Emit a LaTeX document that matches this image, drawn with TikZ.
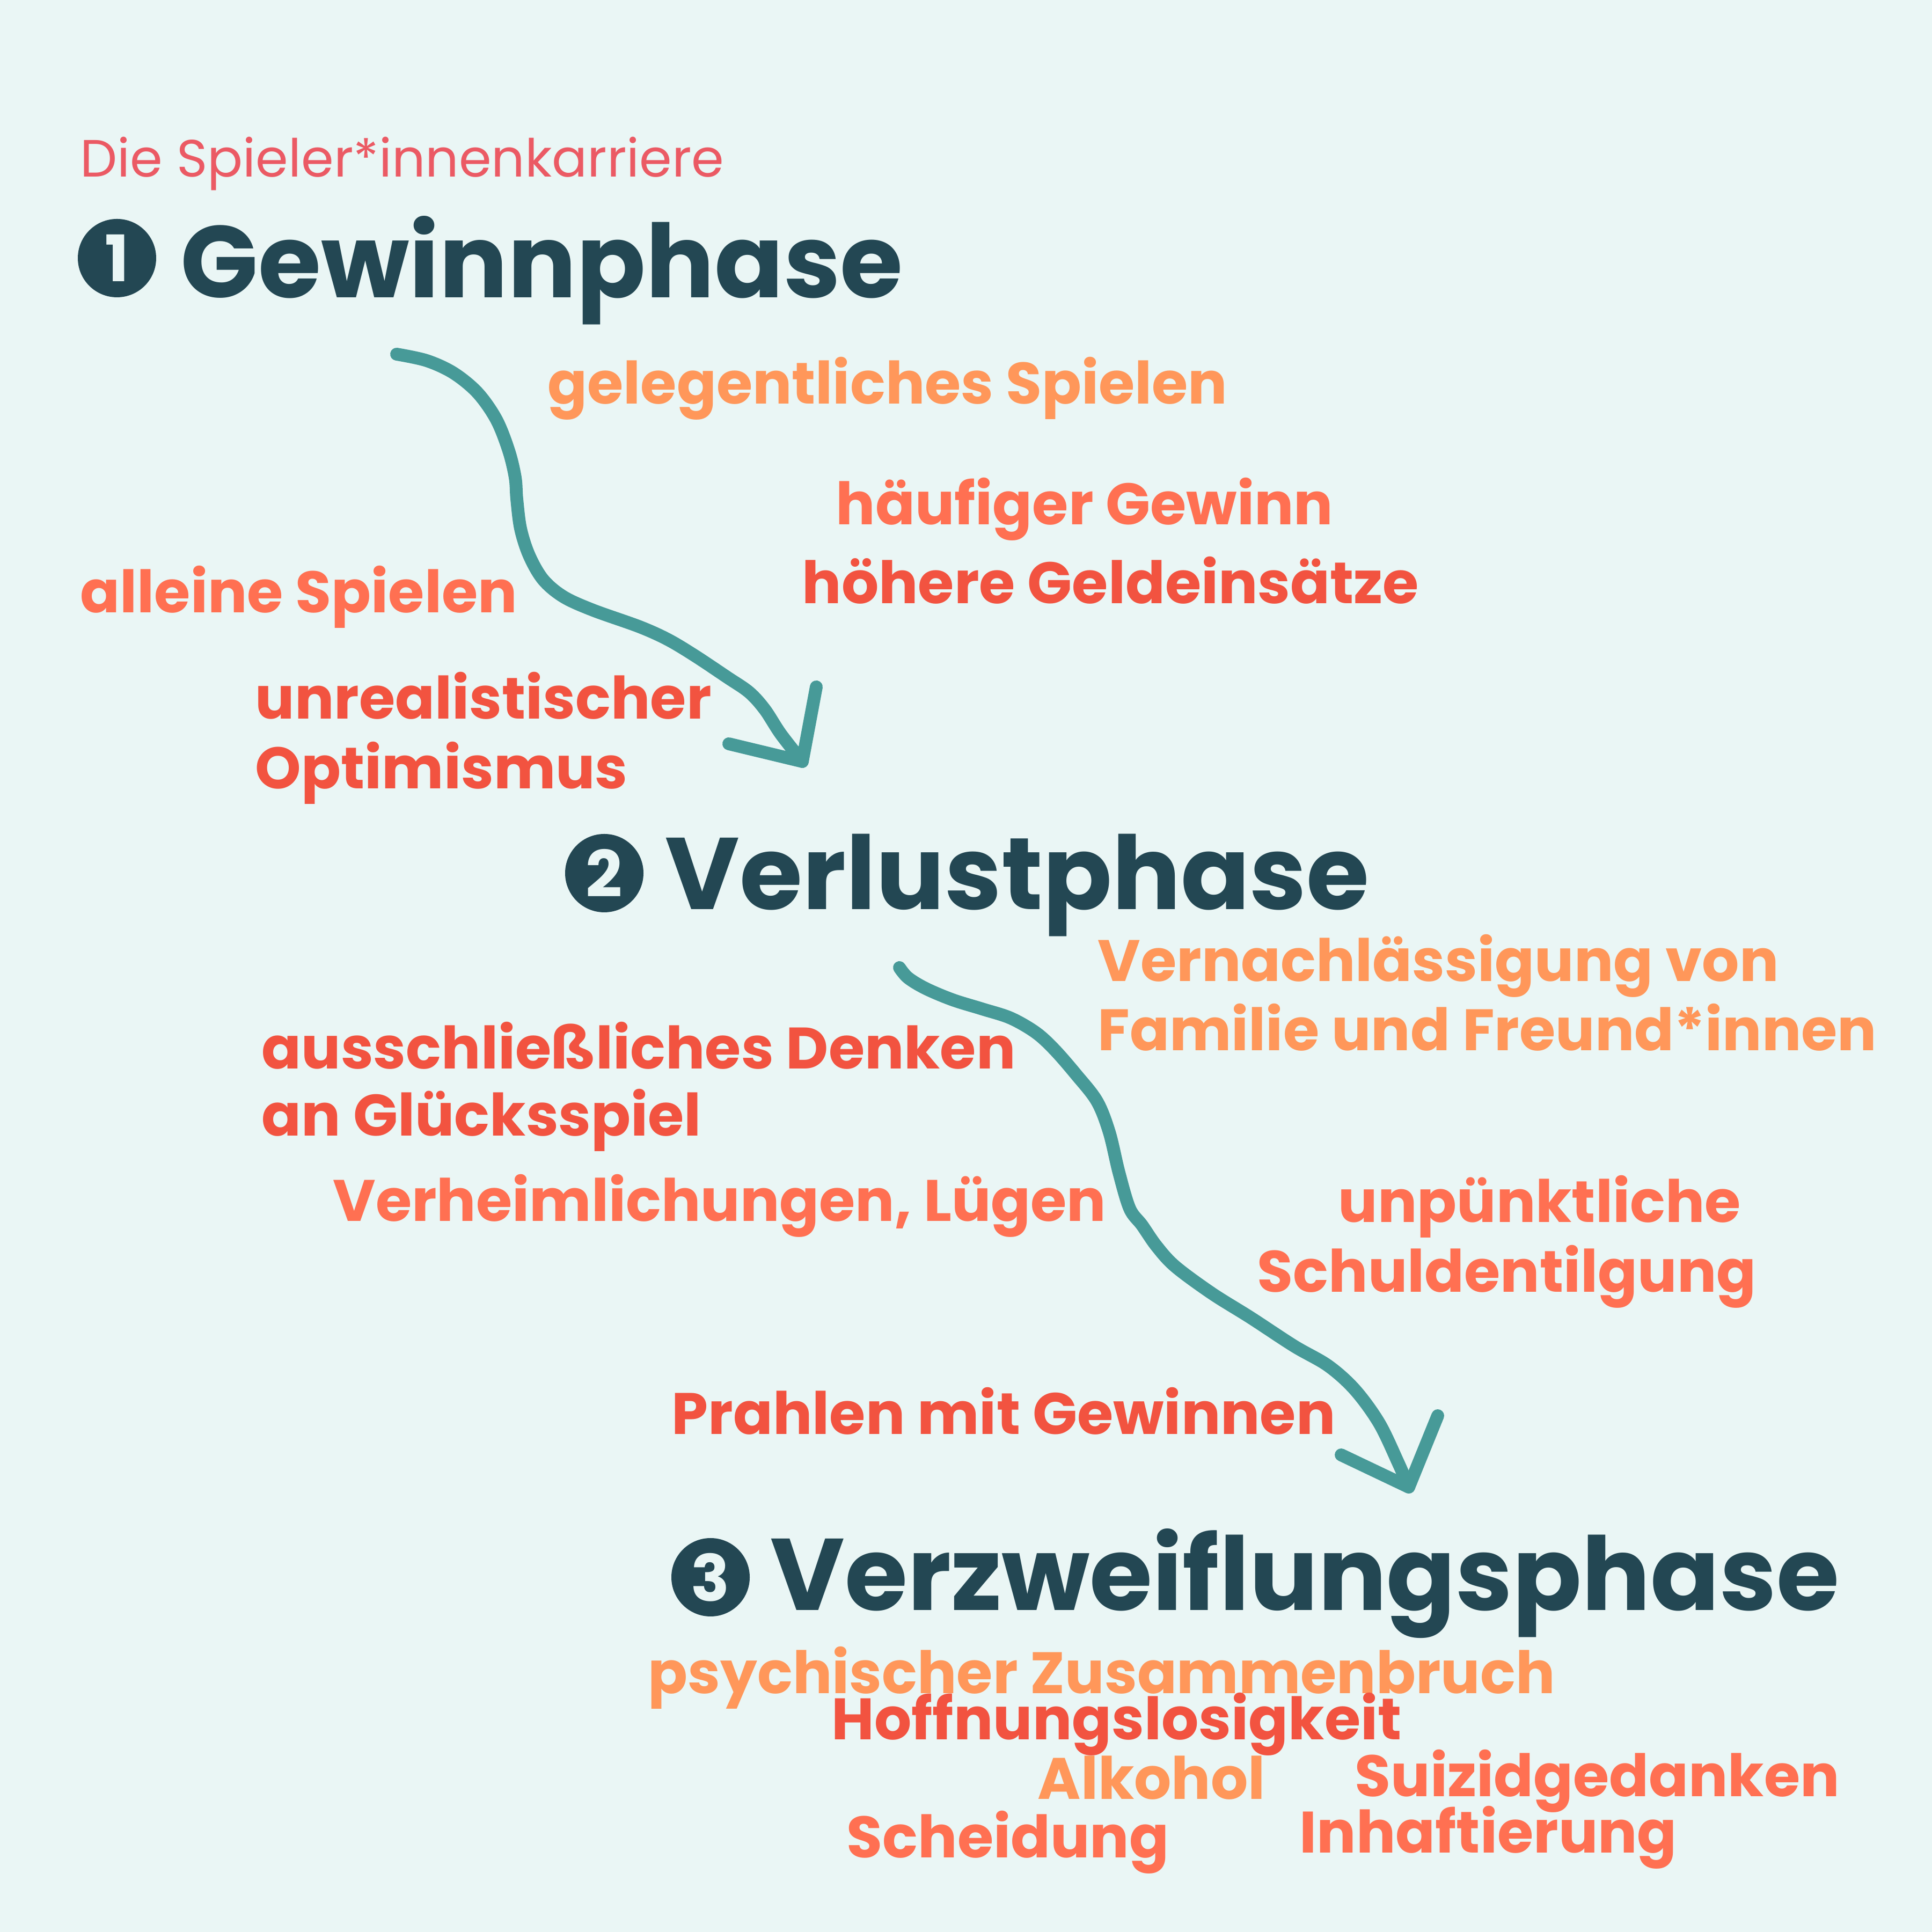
\documentclass[tikz,border=0pt]{standalone}
\usepackage{fontspec}
\setmainfont{Poppins}
\definecolor{bgc}{HTML}{EAF6F5}
\definecolor{headc}{HTML}{234753}
\definecolor{arrc}{HTML}{479A98}
\definecolor{subc}{HTML}{EB5A64}
\definecolor{lorange}{HTML}{FF975A}
\definecolor{coral}{HTML}{FF7052}
\definecolor{redc}{HTML}{F25340}
\tikzset{
  item/.style={anchor=base west, inner sep=0pt, font=\bfseries\fontsize{31}{35}\selectfont},
  heading/.style={anchor=base west, inner sep=0pt, text=headc, font=\bfseries\fontsize{54}{60}\selectfont},
  numcirc/.style={circle, fill=headc, text=bgc, minimum size=1.46cm, inner sep=0pt, font=\bfseries\fontsize{34}{34}\selectfont},
  flow/.style={draw=arrc, line width=6.8pt, line cap=round, line join=round},
}
\begin{document}
\begin{tikzpicture}
\useasboundingbox (0,0) rectangle (36,36);
\fill[bgc] (0,0) rectangle (36,36);

\node[anchor=base west, inner sep=0pt, text=subc, font=\fontsize{27.8}{32}\selectfont] (sub) at (1.49,32.70) {Die Spieler*innenkarriere};

\node[numcirc] (c1) at (2.18,31.19) {1};
\node[heading] (h1) at (3.36,30.45) {Gewinnphase};
\node[numcirc] (c2) at (11.26,19.73) {2};
\node[heading] (h2) at (12.39,19.05) {Verlustphase};
\node[numcirc] (c3) at (13.24,6.61) {3};
\node[heading] (h3) at (14.35,5.99) {Verzweiflungsphase};

\node[item, text=lorange] (t1) at (10.20,28.47) {gelegentliches Spielen};
\node[item, text=coral] (t2) at (15.57,26.22) {häufiger Gewinn};
\node[item, text=redc] (t3) at (14.94,24.75) {höhere Geldeinsätze};
\node[item, text=coral] (t4) at (1.49,24.58) {alleine Spielen};
\node[item, text=redc] (t5) at (4.75,22.60) {unrealistischer};
\node[item, text=redc] (t6) at (4.75,21.30) {Optimismus};

\node[item, text=lorange] (t7) at (20.45,17.71) {Vernachlässigung von};
\node[item, text=lorange] (t8) at (20.45,16.42) {Familie und Freund*innen};
\node[item, text=redc] (t9) at (4.87,16.08) {ausschließliches Denken};
\node[item, text=redc] (t10) at (4.87,14.83) {an Glücksspiel};
\node[item, text=coral] (t11) at (6.20,13.24) {Verheimlichungen, Lügen};
\node[item, text=coral] (t12) at (24.93,13.22) {unpünktliche};
\node[item, text=coral] (t13) at (23.42,11.92) {Schuldentilgung};
\node[item, text=redc] (t14) at (12.51,9.27) {Prahlen mit Gewinnen};

\node[item, text=lorange] (t15) at (12.07,4.44) {psychischer Zusammenbruch};
\node[item, text=redc] (t16) at (15.49,3.58) {Hoffnungslosigkeit};
\node[item, text=lorange] (t17) at (19.33,2.47) {Alkohol};
\node[item, text=coral] (t18) at (25.24,2.52) {Suizidgedanken};
\node[item, text=coral] (t19) at (15.77,1.38) {Scheidung};
\node[item, text=coral] (t20) at (24.21,1.47) {Inhaftierung};

% arrow 1
\coordinate (a1s) at (7.39,29.40);
\coordinate (a1e) at (14.95,21.81);
\draw[flow] plot[smooth, tension=0.55] coordinates {(a1s) (7.95,29.28) (8.45,29.05) (8.90,28.68) (9.25,28.18) (9.48,27.60) (9.60,27.10) (9.63,26.70) (9.70,26.15) (9.86,25.65) (10.12,25.20) (10.50,24.88) (11.05,24.63) (11.92,24.32) (12.45,24.08) (12.95,23.78) (13.55,23.38) (13.96,23.10) (14.25,22.78) (14.55,22.32) (a1e)};
\draw[flow] (13.58,22.14) -- (a1e) -- (15.21,23.20);

% arrow 2
\coordinate (a2s) at (16.76,17.97);
\coordinate (a2e) at (26.25,8.29);
\draw[flow] plot[smooth, tension=0.55] coordinates {(a2s) (16.92,17.78) (17.25,17.58) (17.75,17.37) (18.30,17.20) (18.83,17.03) (19.30,16.76) (19.65,16.44) (20.05,15.98) (20.44,15.48) (20.67,14.90) (20.85,14.15) (21.05,13.48) (21.28,13.17) (21.55,12.78) (21.90,12.40) (22.58,11.90) (23.30,11.45) (24.11,10.92) (24.75,10.55) (25.25,10.10) (25.70,9.48) (26.05,8.75) (a2e)};
\draw[flow] (24.99,8.89) -- (a2e) -- (26.79,9.62);
\end{tikzpicture}
\end{document}
